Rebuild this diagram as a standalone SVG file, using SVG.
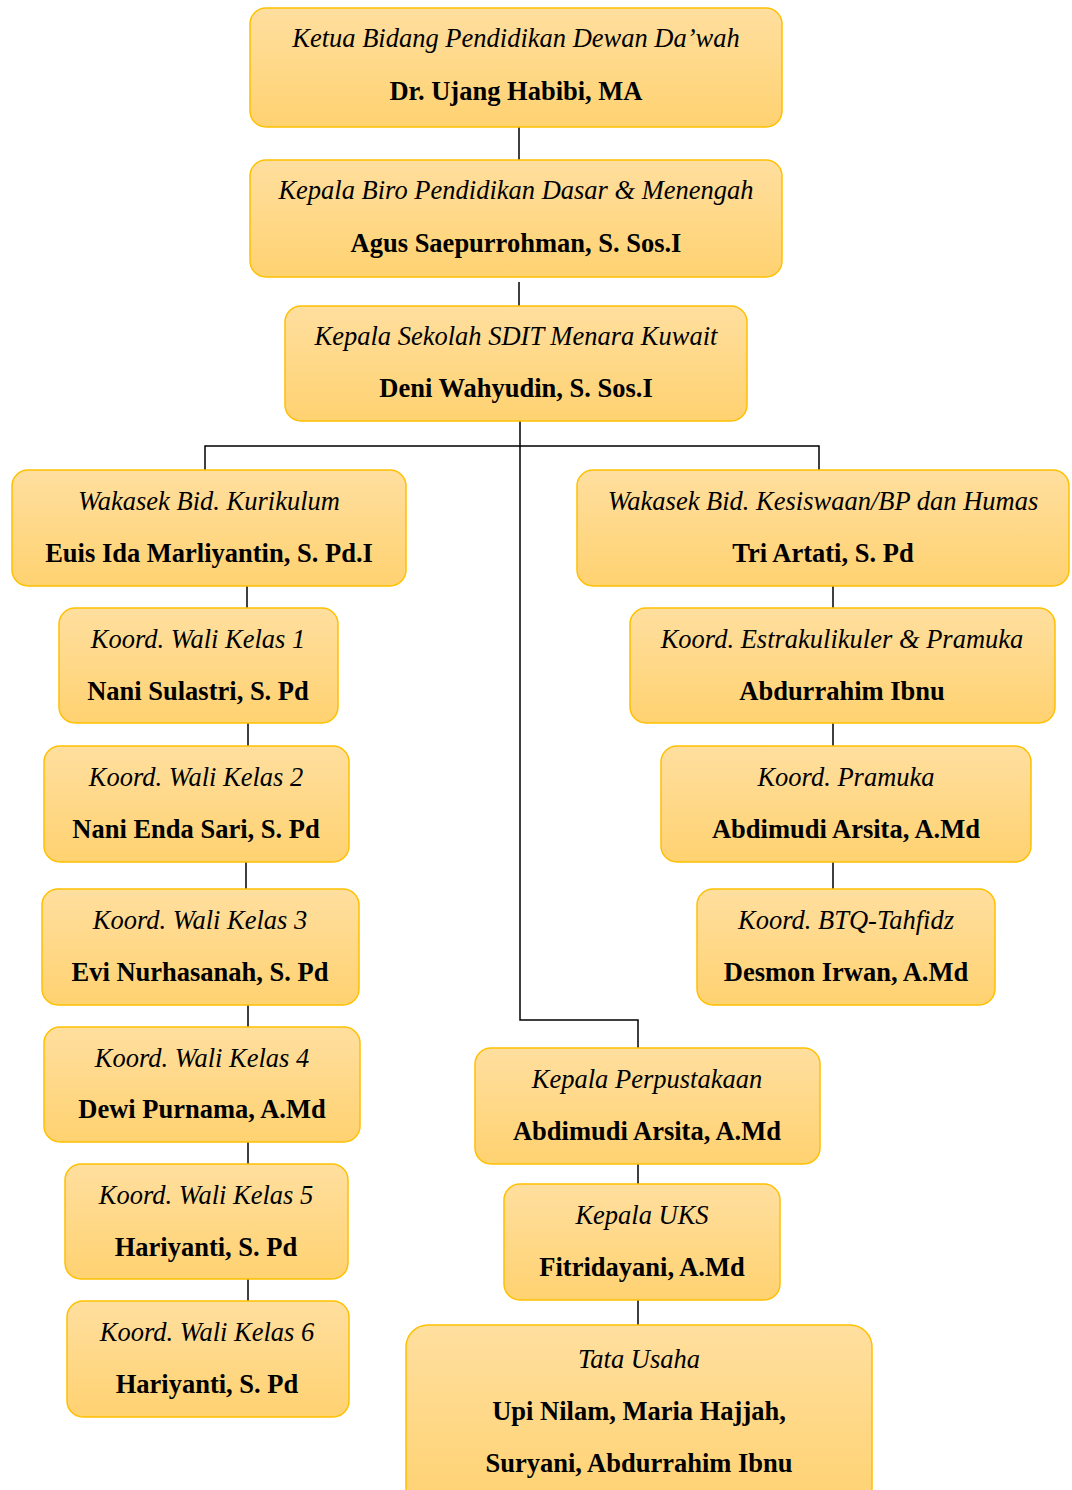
<svg xmlns="http://www.w3.org/2000/svg" width="1072" height="1490" viewBox="0 0 1072 1490">
<defs>
<linearGradient id="g" x1="0" y1="0" x2="0" y2="1">
<stop offset="0" stop-color="#FFDF9F"/>
<stop offset="1" stop-color="#FFD271"/>
</linearGradient>
<style>
.b{fill:url(#g);stroke:#FFC000;stroke-width:1.5}
.t{font-family:"Liberation Serif","Times New Roman",serif;font-size:26.5px;fill:#000;text-anchor:middle}
.i{font-style:italic}
.n{font-weight:bold}
.c{fill:none;stroke:#000;stroke-width:1.5}
</style>
</defs>
<rect width="1072" height="1490" fill="#fff"/>
<g id="connectors">
<path class="c" d="M519 127V160M519 282V306M520 421V1020H638V1048M205 470V446H819V470M247 586V608M248 723V746M246 862V889M248 1005V1027M248 1142V1164M248 1279V1301M833 586V608M833 723V746M833 862V889M638 1164V1184M638 1300V1325"/>
</g>
<g id="n1"><rect class="b" x="250" y="8" width="532" height="119" rx="16"/><text class="t i" x="516" y="47">Ketua Bidang Pendidikan Dewan Da’wah</text><text class="t n" x="516" y="100">Dr. Ujang Habibi, MA</text></g>
<g id="n2"><rect class="b" x="250" y="160" width="532" height="117" rx="16"/><text class="t i" x="516" y="199">Kepala Biro Pendidikan Dasar &amp; Menengah</text><text class="t n" x="516" y="252">Agus Saepurrohman, S. Sos.I</text></g>
<g id="n3"><rect class="b" x="285" y="306" width="462" height="115" rx="16"/><text class="t i" x="516" y="345">Kepala Sekolah SDIT Menara Kuwait</text><text class="t n" x="516" y="397">Deni Wahyudin, S. Sos.I</text></g>
<g id="n4"><rect class="b" x="12" y="470" width="394" height="116" rx="16"/><text class="t i" x="209" y="510">Wakasek Bid. Kurikulum</text><text class="t n" x="209" y="562">Euis Ida Marliyantin, S. Pd.I</text></g>
<g id="n5"><rect class="b" x="577" y="470" width="492" height="116" rx="16"/><text class="t i" x="823" y="510">Wakasek Bid. Kesiswaan/BP dan Humas</text><text class="t n" x="823" y="562">Tri Artati, S. Pd</text></g>
<g id="n6"><rect class="b" x="59" y="608" width="279" height="115" rx="16"/><text class="t i" x="198" y="648">Koord. Wali Kelas 1</text><text class="t n" x="198" y="700">Nani Sulastri, S. Pd</text></g>
<g id="n7"><rect class="b" x="44" y="746" width="305" height="116" rx="16"/><text class="t i" x="196" y="786">Koord. Wali Kelas 2</text><text class="t n" x="196" y="838">Nani Enda Sari, S. Pd</text></g>
<g id="n8"><rect class="b" x="42" y="889" width="317" height="116" rx="16"/><text class="t i" x="200" y="929">Koord. Wali Kelas 3</text><text class="t n" x="200" y="981">Evi Nurhasanah, S. Pd</text></g>
<g id="n9"><rect class="b" x="44" y="1027" width="316" height="115" rx="16"/><text class="t i" x="202" y="1067">Koord. Wali Kelas 4</text><text class="t n" x="202" y="1118">Dewi Purnama, A.Md</text></g>
<g id="n10"><rect class="b" x="65" y="1164" width="283" height="115" rx="16"/><text class="t i" x="206" y="1204">Koord. Wali Kelas 5</text><text class="t n" x="206" y="1256">Hariyanti, S. Pd</text></g>
<g id="n11"><rect class="b" x="67" y="1301" width="282" height="116" rx="16"/><text class="t i" x="207" y="1341">Koord. Wali Kelas 6</text><text class="t n" x="207" y="1393">Hariyanti, S. Pd</text></g>
<g id="n12"><rect class="b" x="630" y="608" width="425" height="115" rx="16"/><text class="t i" x="842" y="648">Koord. Estrakulikuler &amp; Pramuka</text><text class="t n" x="842" y="700">Abdurrahim Ibnu</text></g>
<g id="n13"><rect class="b" x="661" y="746" width="370" height="116" rx="16"/><text class="t i" x="846" y="786">Koord. Pramuka</text><text class="t n" x="846" y="838">Abdimudi Arsita, A.Md</text></g>
<g id="n14"><rect class="b" x="697" y="889" width="298" height="116" rx="16"/><text class="t i" x="846" y="929">Koord. BTQ-Tahfidz</text><text class="t n" x="846" y="981">Desmon Irwan, A.Md</text></g>
<g id="n15"><rect class="b" x="475" y="1048" width="345" height="116" rx="16"/><text class="t i" x="647" y="1088">Kepala Perpustakaan</text><text class="t n" x="647" y="1140">Abdimudi Arsita, A.Md</text></g>
<g id="n16"><rect class="b" x="504" y="1184" width="276" height="116" rx="16"/><text class="t i" x="642" y="1224">Kepala UKS</text><text class="t n" x="642" y="1276">Fitridayani, A.Md</text></g>
<g id="n17"><rect class="b" x="406" y="1325" width="466" height="185" rx="22"/><text class="t i" x="639" y="1368">Tata Usaha</text><text class="t n" x="639" y="1420">Upi Nilam, Maria Hajjah,</text><text class="t n" x="639" y="1472">Suryani, Abdurrahim Ibnu</text></g>
</svg>
